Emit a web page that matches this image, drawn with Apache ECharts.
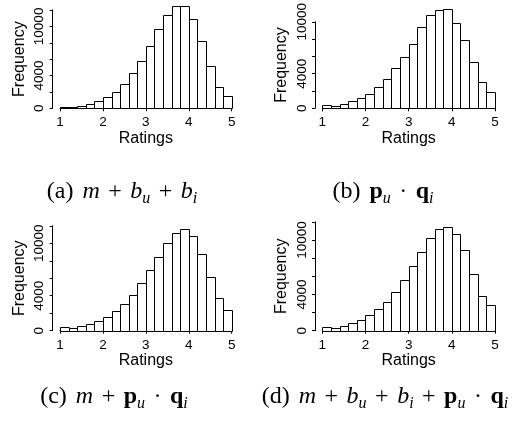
<!DOCTYPE html>
<html>
<head>
<meta charset="utf-8">
<script src="https://cdn.jsdelivr.net/npm/echarts@6/dist/echarts.min.js"></script>
<style>
html,body{margin:0;padding:0;background:#fff;}
#chart{width:519px;height:423px;}
</style>
</head>
<body>
<div id="chart"></div>
<script>
// Bin edges of the rating histograms (20 bins of width 0.2)
const binEdges = [1.0,1.2,1.4,1.6,1.8,2.0,2.2,2.4,2.6,2.8,3.0,3.2,3.4,3.6,3.8,4.0,4.2,4.4,4.6,4.8,5.0];
// Frequencies per bin for each predictor
const freqA = [120,200,280,560,930,1380,1990,3000,4270,5780,7650,9680,11390,12490,12450,10900,8180,5200,2600,1460];
const freqB = [330,300,520,850,1190,1680,2420,3360,4620,5930,7460,9360,10820,11310,11460,9850,7950,5370,3060,1940];
const freqC = [380,305,500,800,1100,1600,2250,3000,4080,5420,6900,8430,10040,11180,11640,10840,8780,6150,3700,2400];
const freqD = [410,300,520,820,1160,1680,2390,3210,4300,5570,7100,8670,10200,11250,11440,10690,8860,6240,3850,2800];
// Axis ticks
const xTicks = [1,2,3,4,5];
const yLabelValues = [0,4000,10000];
const yMaxA = 12000, yMaxB = 10000, yMaxC = 12000, yMaxD = 12000;
const xTitle = 'Ratings';
const yTitle = 'Frequency';

const SANS = '"Liberation Sans", Arial, Helvetica, sans-serif';
const SERIF = '"Liberation Serif", "DejaVu Serif", serif';

function toBins(freq){
  return freq.map((f,i)=>[binEdges[i], binEdges[i+1], f]);
}

const grids = [
  {left:60, top:10, width:171.7, height:98.3},
  {left:322.3, top:19, width:172.7, height:89.3},
  {left:60, top:225.8, width:171.7, height:104.9},
  {left:322.3, top:221.9, width:172.7, height:108.8}
];
const yMaxes = [yMaxA, yMaxB, yMaxC, yMaxD];
const freqs = [freqA, freqB, freqC, freqD];

const xAxes = grids.map((g,i)=>({
  gridIndex:i, type:'value', min:xTicks[0], max:xTicks[xTicks.length-1], interval:1,
  offset:4.4,
  axisLine:{show:true, lineStyle:{color:'#000', width:1}},
  axisTick:{show:true, length:3, lineStyle:{color:'#000'}},
  splitLine:{show:false},
  axisLabel:{color:'#000', fontFamily:SANS, fontSize:13.5, margin:3},
  name:xTitle, nameLocation:'middle', nameGap:17,
  nameTextStyle:{color:'#000', fontFamily:SANS, fontSize:16}
}));
const yAxes = grids.map((g,i)=>({
  gridIndex:i, type:'value', min:0, max:yMaxes[i], interval:2000,
  offset:7.3,
  axisLine:{show:true, lineStyle:{color:'#000', width:1}},
  axisTick:{show:true, length:3, lineStyle:{color:'#000'}},
  splitLine:{show:false},
  axisLabel:{color:'#000', fontFamily:SANS, fontSize:13.5, margin:6, rotate:90,
    formatter:(v)=> yLabelValues.indexOf(v)>=0 ? String(v) : ''},
  name:yTitle, nameLocation:'middle', nameGap:25,
  nameTextStyle:{color:'#000', fontFamily:SANS, fontSize:16}
}));

const series = freqs.map((f,i)=>({
  type:'custom', xAxisIndex:i, yAxisIndex:i, clip:false,
  data:toBins(f),
  renderItem:(params, api)=>{
    const p0 = api.coord([api.value(0), api.value(2)]);
    const p1 = api.coord([api.value(1), 0]);
    return {type:'rect',
      shape:{x:Math.round(p0[0])+0.5, y:Math.round(p0[1])+0.5, width:Math.round(p1[0])-Math.round(p0[0]), height:Math.round(p1[1])-Math.round(p0[1])},
      style:{fill:'#fff', stroke:'#000', lineWidth:1}};
  }
}));

const FS = 24, SFS = 16;
const capStyle = {
  r:{fontFamily:SERIF, fontSize:FS, fill:'#000', lineHeight:30, verticalAlign:'middle', padding:[0,9,0,0]},
  o:{fontFamily:SERIF, fontSize:FS, fill:'#000', lineHeight:30, verticalAlign:'middle', padding:[0,8.5,0,8.5]},
  i:{fontFamily:SERIF, fontSize:FS, fontStyle:'italic', fill:'#000', lineHeight:30, verticalAlign:'middle'},
  b:{fontFamily:SERIF, fontSize:FS, fontWeight:'bold', fill:'#000', lineHeight:30, verticalAlign:'middle'},
  s:{fontFamily:SERIF, fontSize:SFS, fontStyle:'italic', fill:'#000', lineHeight:16, verticalAlign:'bottom'}
};
const captions = [
  {x:122, y:192, text:'{r|(a)}{i|m}{o|+}{i|b}{s|u}{o|+}{i|b}{s|i}'},
  {x:383, y:192, text:'{r|(b)}{b|p}{s|u}{o|·}{b|q}{s|i}'},
  {x:114, y:397, text:'{r|(c)}{i|m}{o|+}{b|p}{s|u}{o|·}{b|q}{s|i}'},
  {x:385, y:397, text:'{r|(d)}{i|m}{o|+}{i|b}{s|u}{o|+}{i|b}{s|i}{o|+}{b|p}{s|u}{o|·}{b|q}{s|i}'}
];

const chart = echarts.init(document.getElementById('chart'), null, {renderer:'canvas'});
chart.setOption({
  backgroundColor:'#fff',
  animation:false,
  grid:grids.map(g=>Object.assign({containLabel:false}, g)),
  xAxis:xAxes,
  yAxis:yAxes,
  series:series,
  graphic:captions.map(c=>({
    type:'text', x:c.x, y:c.y,
    style:{text:c.text, rich:capStyle, textAlign:'center', textVerticalAlign:'middle', align:'center', verticalAlign:'middle'}
  }))
});
</script>
</body>
</html>
